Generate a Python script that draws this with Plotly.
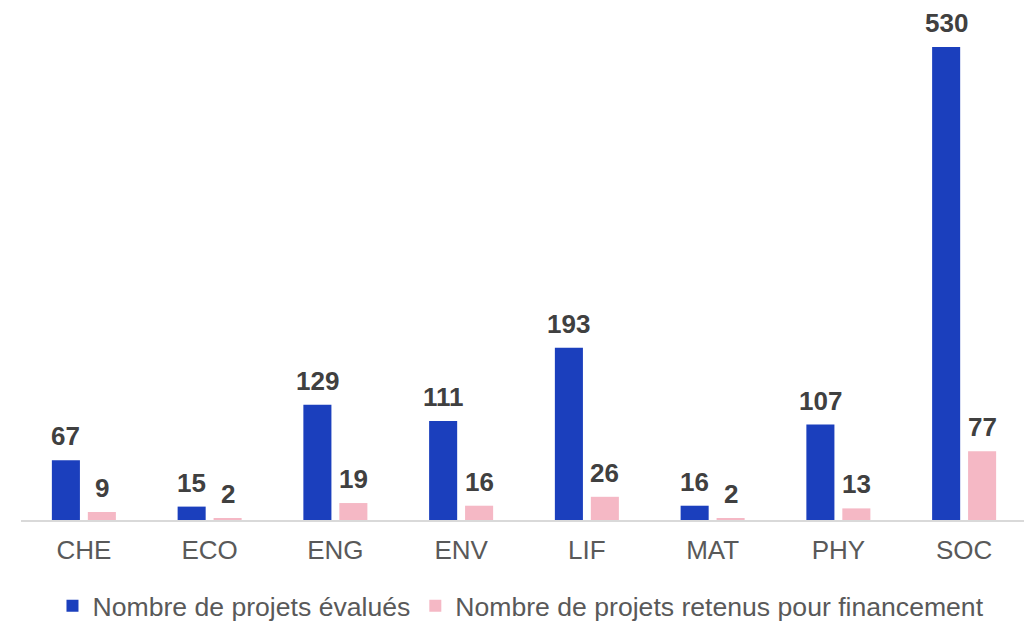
import plotly.graph_objects as go

categories = ["CHE", "ECO", "ENG", "ENV", "LIF", "MAT", "PHY", "SOC"]
evalues = [67, 15, 129, 111, 193, 16, 107, 530]
retenus = [9, 2, 19, 16, 26, 2, 13, 77]
series_names = ["Nombre de projets évalués", "Nombre de projets retenus pour financement"]

FONT = "Liberation Sans, Arial, sans-serif"
colors = ["#1b3fbd", "#f5b8c5"]

fig = go.Figure()
for vals, name, col in zip([evalues, retenus], series_names, colors):
    fig.add_trace(go.Bar(
        x=categories, y=vals, name=name,
        marker=dict(color=col, line=dict(width=0)),
        cliponaxis=False,
    ))

# value labels above bars
for vals, shift in zip([evalues, retenus], [-18, 18]):
    for c, v in zip(categories, vals):
        fig.add_annotation(
            x=c, y=v, text=str(v), showarrow=False,
            xanchor="center", yanchor="bottom", xshift=shift, yshift=8,
            borderpad=0,
            font=dict(family=FONT, size=26, color="#404040", weight="bold"),
        )

fig.update_layout(
    width=1032, height=622,
    margin=dict(l=13, r=13, t=10, b=110, autoexpand=False),
    paper_bgcolor="white", plot_bgcolor="white",
    barmode="group", bargap=0.428, bargroupgap=0.22,
    font=dict(family=FONT, size=26, color="#595959"),
    showlegend=True,
    legend=dict(orientation="h", x=0.497, xanchor="center", y=-0.171, yanchor="middle",
                font=dict(family=FONT, size=26.6, color="#595959"),
                itemwidth=30, tracegroupgap=0, itemclick=False),
    xaxis=dict(showline=True, linecolor="#d9d9d9", linewidth=1.5, ticks="",
               tickfont=dict(family=FONT, size=26, color="#595959"), showgrid=False,
               automargin=False, ticklabelstandoff=6),
    yaxis=dict(visible=False, range=[0, 562.5], showgrid=False, zeroline=False,
               automargin=False),
)

fig.write_html("out.html")
